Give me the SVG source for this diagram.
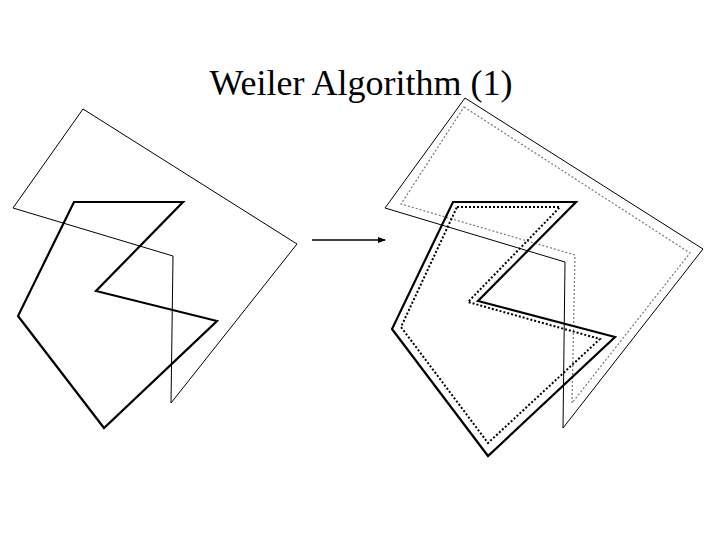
<svg xmlns="http://www.w3.org/2000/svg" width="720" height="540" viewBox="0 0 720 540">
<style>
.title{font-family:"Liberation Serif","Times New Roman",serif;font-size:36px;fill:#000}
.thin{fill:none;stroke:#000;stroke-width:1}
.thick{fill:none;stroke:#000;stroke-width:2.2;stroke-linejoin:miter}
.gdot{fill:none;stroke:#777;stroke-width:1.2;stroke-dasharray:2 2}
.kdot{fill:none;stroke:#000;stroke-width:2;stroke-dasharray:2 2}
</style>
<defs>
<marker id="ah" markerWidth="8" markerHeight="6" refX="7" refY="3" orient="auto" markerUnits="userSpaceOnUse">
<path d="M0,0 L8,3 L0,6 z" fill="#000"/>
</marker>
</defs>
<rect width="720" height="540" fill="#fff"/>
<text class="title" x="361" y="95" text-anchor="middle">Weiler Algorithm (1)</text>
<g id="left-clip"><polygon class="thin" points="83,109 297,244 171,403 173,256 13,208"/></g>
<g id="left-subject"><polygon class="thick" points="74,202 183,202 96,291 217,321 104,428 18,316"/></g>
<g id="right-clip"><polygon class="thin" points="465,98 703,249 563,428 565,262 385,208"/></g>
<g id="right-clip-offset"><polygon class="gdot" points="464,107 690,253 572,403 575,255 401,204"/></g>
<g id="right-subject"><polygon class="thick" points="453,202 576,202 478,301 615,337 488,456 392,329"/></g>
<g id="right-subject-offset"><polygon class="kdot" points="457,207 560,207 468,302 600,339 488,443 401,327"/></g>
<g id="connectors"><line x1="312" y1="240" x2="385" y2="240" stroke="#000" stroke-width="1.6" marker-end="url(#ah)"/></g>
</svg>
